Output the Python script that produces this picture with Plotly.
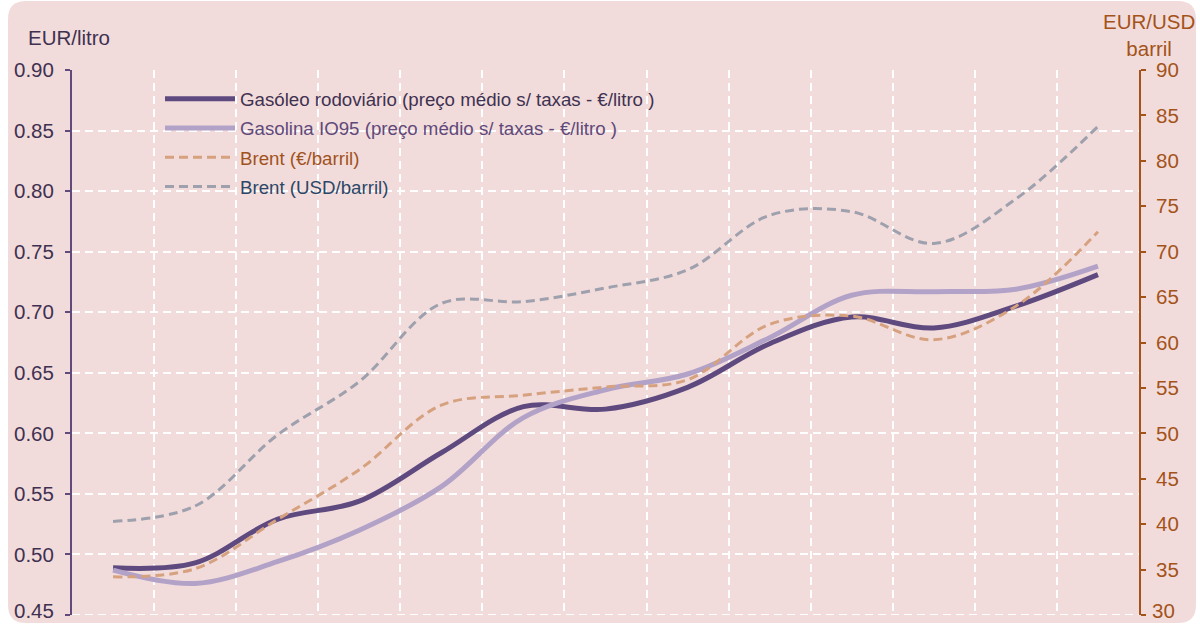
import plotly.graph_objects as go

# ---- data ----
periods = list(range(13))
gasoleo = [0.489, 0.493, 0.529, 0.544, 0.584, 0.622, 0.620, 0.638, 0.674, 0.696, 0.687, 0.705, 0.731]
gasolina = [0.487, 0.476, 0.494, 0.520, 0.556, 0.613, 0.636, 0.649, 0.679, 0.714, 0.717, 0.719, 0.738]
brent_eur = [34.2, 35.1, 40.5, 46.0, 53.1, 54.2, 55.1, 55.9, 62.0, 62.9, 60.3, 64.0, 72.2]
brent_usd = [40.3, 42.0, 49.8, 55.7, 64.3, 64.5, 66.0, 68.0, 74.0, 74.4, 70.9, 75.8, 83.8]

left_ticks = [0.45, 0.50, 0.55, 0.60, 0.65, 0.70, 0.75, 0.80, 0.85, 0.90]
right_ticks = [30, 35, 40, 45, 50, 55, 60, 65, 70, 75, 80, 85, 90]
x_grid = [i + 0.5 for i in range(12)]

names = [
    "Gasóleo rodoviário (preço médio s/ taxas - €/litro )",
    "Gasolina IO95 (preço médio s/ taxas - €/litro )",
    "Brent (€/barril)",
    "Brent (USD/barril)",
]

FONT = "Liberation Sans, Arial, sans-serif"
PINK = "#f2dcdb"
LEFT_C = "#3f3151"
AXIS_L = "#604a7b"
RIGHT_C = "#a3531a"
TICK_FS = 20.5
GRID_DASH = "8px,5px"

fig = go.Figure()
fig.add_trace(go.Scatter(
    x=periods, y=gasoleo, mode="lines", legendgroup="a",
    line=dict(color="#5f4a80", width=5, shape="spline"),
    name='<span style="color:#3f3151">' + names[0] + '</span>'))
fig.add_trace(go.Scatter(
    x=periods, y=gasolina, mode="lines", legendgroup="b",
    line=dict(color="#b3a2c8", width=5, shape="spline"),
    name='<span style="color:#60497a">' + names[1] + '</span>'))
fig.add_trace(go.Scatter(
    x=periods, y=brent_eur, mode="lines", yaxis="y2", legendgroup="c",
    line=dict(color="#d6a17f", width=3, shape="spline", dash="9px,5px"),
    name='<span style="color:#a0521d">' + names[2] + '</span>'))
fig.add_trace(go.Scatter(
    x=periods, y=brent_usd, mode="lines", yaxis="y2", legendgroup="d",
    line=dict(color="#9ea1ad", width=3, shape="spline", dash="9px,5px"),
    name='<span style="color:#2c4768">' + names[3] + '</span>'))

# rounded pink background (pixel -> paper coordinates)
L, R, T, B = 72, 1139, 70, 615
def px(xp):
    return (xp - L) / (R - L)
def py(yp):
    return (B - yp) / (B - T)
x0, x1, y0, y1, rr = 8, 1196, 1, 623, 18
path = (f"M {px(x0+rr)},{py(y0)} L {px(x1-rr)},{py(y0)} Q {px(x1)},{py(y0)} {px(x1)},{py(y0+rr)} "
        f"L {px(x1)},{py(y1-rr)} Q {px(x1)},{py(y1)} {px(x1-rr)},{py(y1)} "
        f"L {px(x0+rr)},{py(y1)} Q {px(x0)},{py(y1)} {px(x0)},{py(y1-rr)} "
        f"L {px(x0)},{py(y0+rr)} Q {px(x0)},{py(y0)} {px(x0+rr)},{py(y0)} Z")
fig.add_shape(type="path", path=path, xref="paper", yref="paper",
              fillcolor=PINK, line=dict(width=0), layer="below")
# bottom grid line (plotly skips the gridline at the range edge)
fig.add_shape(type="line", xref="paper", yref="y", x0=0, x1=1,
              y0=left_ticks[0], y1=left_ticks[0],
              line=dict(color="white", width=2, dash=GRID_DASH), layer="below")

fig.update_layout(
    width=1200, height=625,
    margin=dict(l=L, r=1200 - R, t=T, b=625 - B),
    paper_bgcolor="white", plot_bgcolor="rgba(0,0,0,0)",
    font=dict(family=FONT, size=18, color=LEFT_C),
    showlegend=True,
    legend=dict(x=px(160), y=py(80), xanchor="left", yanchor="top",
                bgcolor="rgba(0,0,0,0)", font=dict(size=18.7), itemwidth=70,
                traceorder="grouped", tracegroupgap=2.0),
    xaxis=dict(range=[-0.5, 12.5], tickvals=x_grid, showticklabels=False, ticks="",
               showgrid=True, gridcolor="white", gridwidth=2, griddash=GRID_DASH,
               zeroline=False, showline=False),
    yaxis=dict(range=[0.45, 0.90], tickvals=left_ticks, tickformat=".2f",
               showgrid=True, gridcolor="white", gridwidth=2, griddash=GRID_DASH,
               zeroline=False, showline=True, linecolor=AXIS_L, linewidth=2,
               ticks="outside", ticklen=5, tickcolor=AXIS_L, tickwidth=2,
               ticklabelstandoff=7,
               tickfont=dict(size=TICK_FS, color=LEFT_C)),
    yaxis2=dict(range=[30, 90], tickvals=right_ticks, overlaying="y", side="right",
                showgrid=False, zeroline=False, showline=True, linecolor=RIGHT_C, linewidth=2,
                ticks="outside", ticklen=5, tickcolor=RIGHT_C, tickwidth=2,
                ticklabelstandoff=6,
                tickfont=dict(size=TICK_FS, color=RIGHT_C)),
    annotations=[
        dict(text="EUR/litro", xref="paper", yref="paper", x=px(26), y=py(37),
             xanchor="left", yanchor="middle", showarrow=False,
             font=dict(size=20.5, color=LEFT_C)),
        dict(text="EUR/USD<br>barril", xref="paper", yref="paper", x=px(1149), y=py(35),
             xanchor="center", yanchor="middle", showarrow=False, align="center",
             font=dict(size=20.5, color=RIGHT_C)),
        # bottom tick labels (the axis would hide them because they touch the page edge)
        dict(text=f"{left_ticks[0]:.2f}", xref="paper", yref="y", x=0, y=left_ticks[0],
             xanchor="right", yanchor="bottom", xshift=-16, yshift=-9, showarrow=False,
             font=dict(size=TICK_FS, color=LEFT_C)),
        dict(text=f"{right_ticks[0]}", xref="paper", yref="y2", x=1, y=right_ticks[0],
             xanchor="left", yanchor="bottom", xshift=11, yshift=-9, showarrow=False,
             font=dict(size=TICK_FS, color=RIGHT_C)),
    ],
)

post = "document.body.style.margin='0';"
fig.write_html("out.html", config={"displayModeBar": False}, post_script=post)
